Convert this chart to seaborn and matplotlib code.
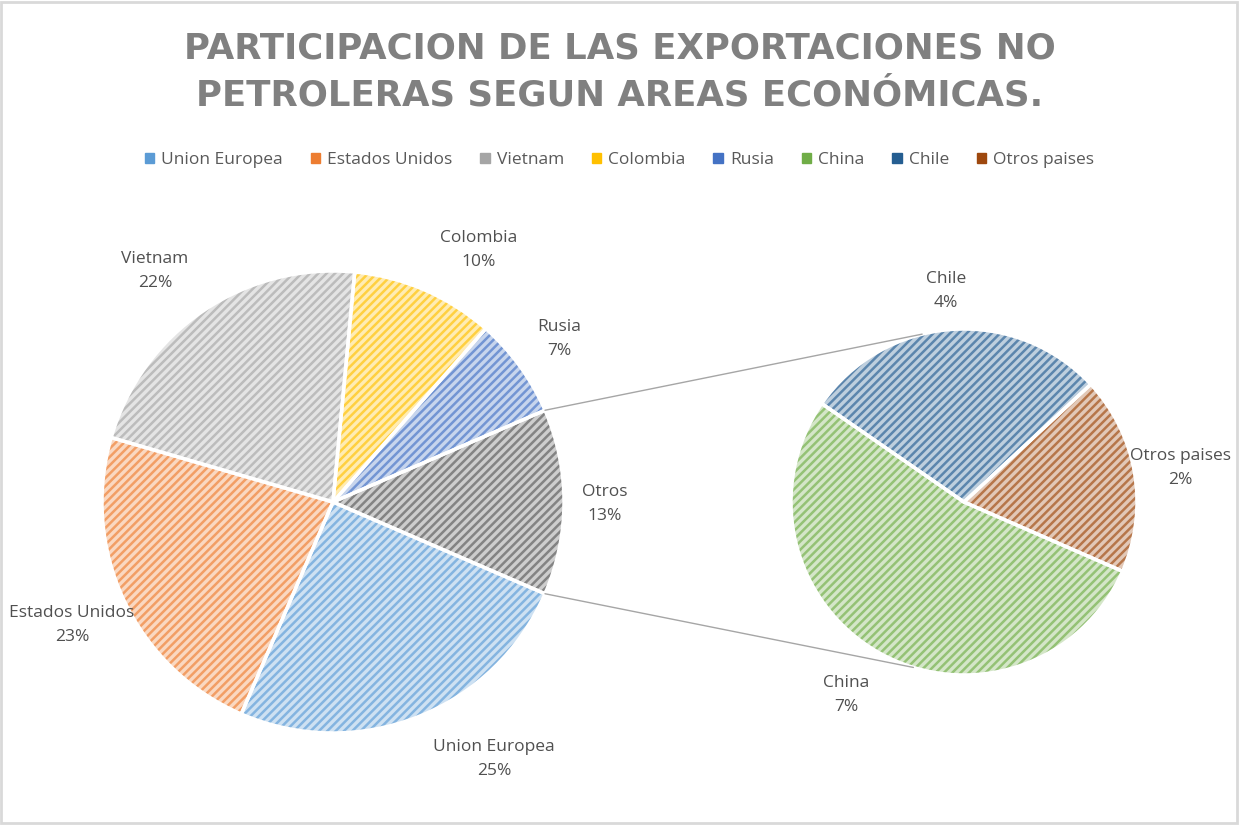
import matplotlib
matplotlib.use('Agg')
import matplotlib.pyplot as plt
import seaborn as sns
import numpy as np
from matplotlib.patches import Patch, Rectangle
from matplotlib.colors import to_rgb

# data
main_labels = ['Union Europea', 'Estados Unidos', 'Vietnam', 'Colombia', 'Rusia', 'Otros']
main_values = [25, 23, 22, 10, 7, 13]
sub_labels = ['China', 'Chile', 'Otros paises']
sub_values = [6.9, 3.7, 2.4]

main_colors = ['#5B9BD5', '#ED7D31', '#A5A5A5', '#FFC000', '#4472C4', '#595959']
sub_colors = ['#70AD47', '#255E91', '#9E480E']

legend_labels = main_labels[:5] + sub_labels
legend_colors = main_colors[:5] + sub_colors

sns.set_theme(style='white')
plt.rcParams['font.family'] = ['Open Sans', 'DejaVu Sans']
plt.rcParams['hatch.linewidth'] = 1.8

W, H = 1239, 825
fig = plt.figure(figsize=(W / 100, H / 100), dpi=100)
ax = fig.add_axes([0, 0, 1, 1])

main_center = (333, H - 502)
main_r = 231
sub_center = (964, H - 502)
sub_r = 173


def mix(c, a):
    r, g, b = to_rgb(c)
    return (1 - a + a * r, 1 - a + a * g, 1 - a + a * b)


def draw_pie(values, colors, center, radius, start):
    wedges, _ = ax.pie(values, colors=[mix(c, 0.3) for c in colors], center=center,
                       radius=radius, startangle=start, counterclock=False,
                       frame=True)
    for w, c in zip(wedges, colors):
        w.set_edgecolor(mix(c, 0.75))
        w.set_hatch('////')
        w.set_linewidth(0)
    # white separators on top
    ax.pie(values, colors=['none'] * len(values), center=center,
           radius=radius, startangle=start, counterclock=False,
           frame=True, wedgeprops=dict(edgecolor='white', linewidth=2.5))
    return wedges


main_wedges = draw_pie(main_values, main_colors, main_center, main_r, -23.4)
sub_wedges = draw_pie(sub_values, sub_colors, sub_center, sub_r, -23.6)

total = sum(main_values)

# connector lines between Otros slice and secondary pie
ow = main_wedges[-1]
for ang_main, ang_sub in [(ow.theta2, 104), (ow.theta1, -107)]:
    p1 = (main_center[0] + main_r * np.cos(np.radians(ang_main)),
          main_center[1] + main_r * np.sin(np.radians(ang_main)))
    p2 = (sub_center[0] + sub_r * np.cos(np.radians(ang_sub)),
          sub_center[1] + sub_r * np.sin(np.radians(ang_sub)))
    ax.plot([p1[0], p2[0]], [p1[1], p2[1]], color='#a6a6a6', lw=1)

# label positions (pixels, layout only)
main_label_pos = [(494, 759), (72, 625), (155, 271), (479, 250), (559, 339), (605, 504)]
sub_label_pos = [(846, 695), (946, 291), (1180, 468)]

for lab, v, (x, y) in zip(main_labels + sub_labels, main_values + sub_values,
                          main_label_pos + sub_label_pos):
    ax.text(x, H - y, f'{lab}\n{v / total * 100:.0f}%', ha='center', va='center',
            fontsize=12.5, color='#505050', linespacing=1.7)

ax.set_xlim(0, W)
ax.set_ylim(0, H)
ax.set_aspect('equal')
ax.axis('off')

# title
fig.text(0.5, 1 - 72 / H,
         'PARTICIPACION DE LAS EXPORTACIONES NO\nPETROLERAS SEGUN AREAS ECONÓMICAS.',
         ha='center', va='center', fontsize=25.6, fontweight='bold', color='#808080',
         linespacing=1.45, family=['DejaVu Sans'])

# legend
handles = [Patch(facecolor=c, edgecolor=c) for c in legend_colors]
fig.legend(handles, legend_labels, loc='center', bbox_to_anchor=(0.5, 1 - 160 / H),
           ncol=8, frameon=False, fontsize=12.5, handlelength=0.55, handleheight=0.55,
           handletextpad=0.4, columnspacing=1.6, labelcolor='#595959')

# chart border
fig.patches.append(Rectangle((0.001, 0.002), 0.997, 0.996, transform=fig.transFigure,
                             fill=False, edgecolor='#d9d9d9', lw=2))

fig.savefig('out.png', dpi=100, facecolor='white')
